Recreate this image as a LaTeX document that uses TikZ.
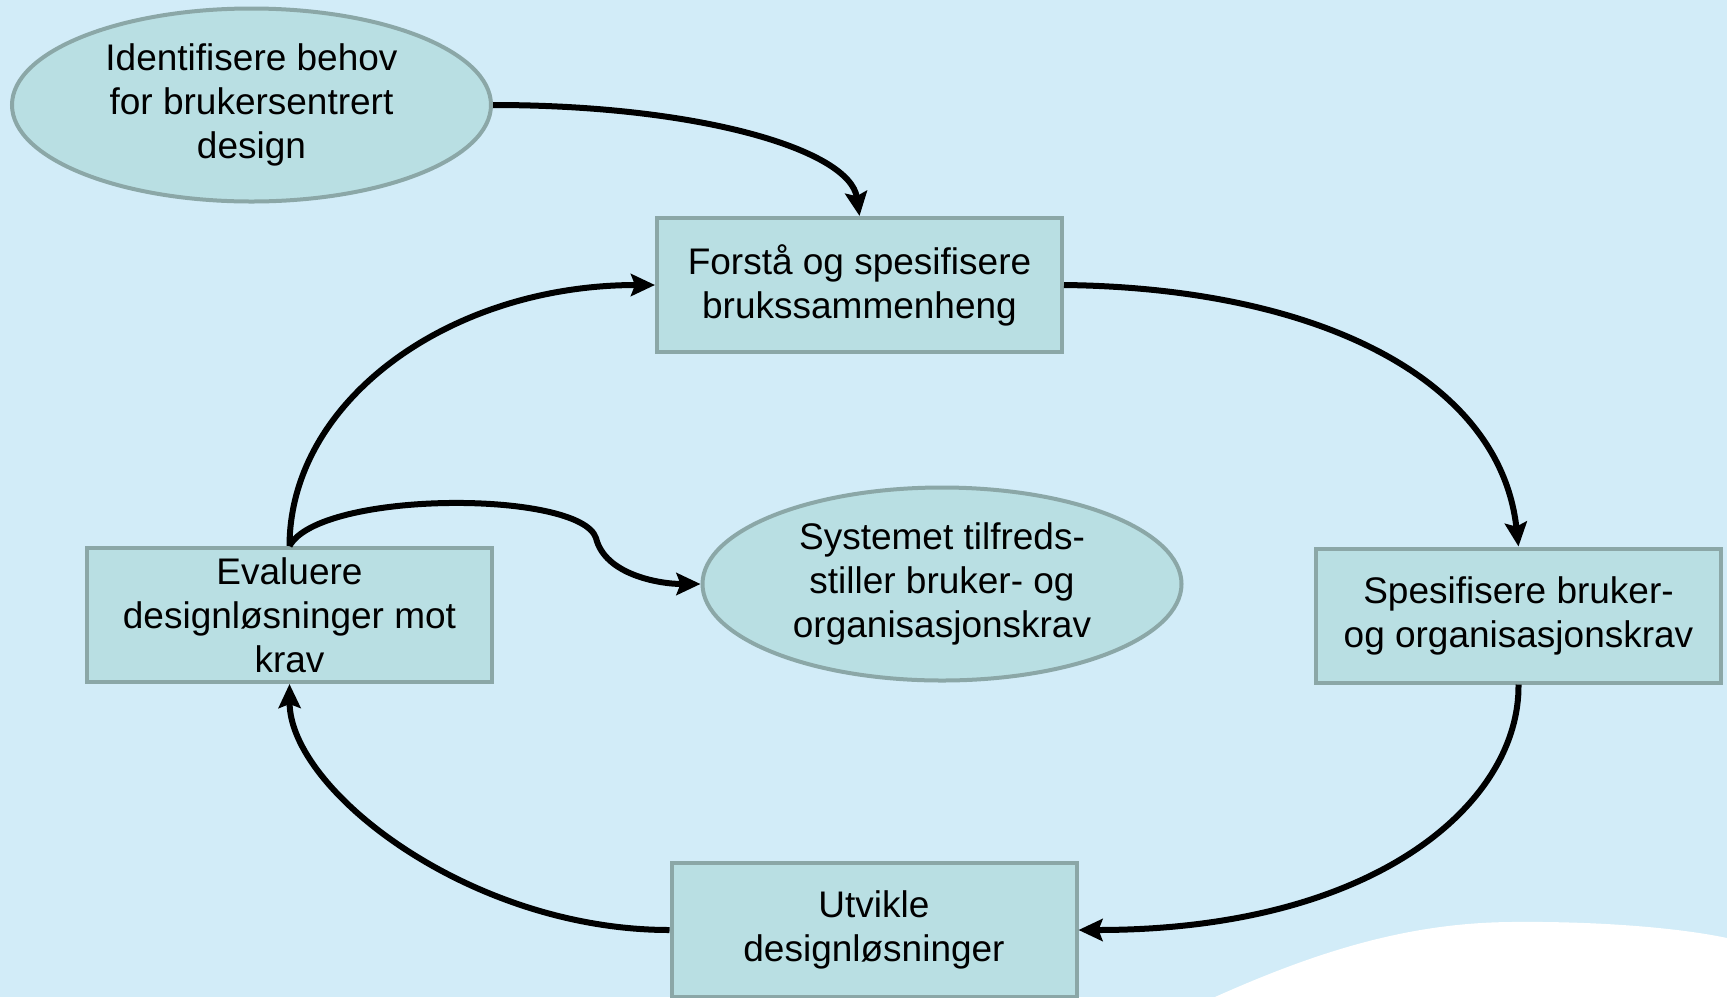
\documentclass[tikz,border=0pt]{standalone}
\usepackage{fontspec}
\setmainfont{Liberation Sans}
\usetikzlibrary{shapes.geometric,arrows.meta}
\definecolor{bgblue}{HTML}{D2ECF8}
\definecolor{nodefill}{HTML}{B9DFE3}
\definecolor{nodeedge}{HTML}{8BA7A7}
\begin{document}
\begin{tikzpicture}[x=1pt,y=-1pt,
		box/.style={draw=nodeedge,fill=nodefill,line width=4pt,minimum width=405pt,minimum height=134pt,inner sep=0pt,align=center,font=\fontsize{37}{44}\selectfont},
		oval/.style={box,ellipse,minimum width=479pt,minimum height=193pt},
		arr/.style={line width=6pt,-{Stealth[length=24pt,width=22pt,inset=4pt]}}]
	\useasboundingbox (0,0) rectangle (1727,997);
	\fill[bgblue] (0,0) rectangle (1727,997);
	\fill[white] (1215,997) .. controls (1320,950) and (1410,923) .. (1510,922) .. controls (1600,921) and (1680,928) .. (1727,938) -- (1727,997) -- cycle;
	% nodes
	\node[oval] (behov) at (251.5,105) {Identifisere behov\\for brukersentrert\\design};
	\node[box] (forst) at (859.5,285) {Forstå og spesifisere\\brukssammenheng};
	\node[box] (spes) at (1518.5,615.5) {Spesifisere bruker-\\og organisasjonskrav};
	\node[box] (utv) at (874,930) {Utvikle\\designløsninger};
	\node[box] (eval) at (289.5,615) {Evaluere\\designløsninger mot\\krav};
	\node[oval] (syst) at (942,584) {Systemet tilfreds-\\stiller bruker- og\\organisasjonskrav};
	% connectors
	\draw[arr] (behov.east) .. controls (700,105) and (850,150) .. (forst.north);
	\draw[arr] (forst.east) .. controls (1320,288) and (1500,380) .. (spes.north);
	\draw[arr] (spes.south) .. controls (1520,800) and (1380,930) .. (utv.east);
	\draw[arr] (utv.west) .. controls (470,930) and (290,790) .. (eval.south);
	\draw[arr] (eval.north) .. controls (290,400) and (450,285) .. (forst.west);
	\draw[arr] (eval.north) .. controls (320,490) and (580,490) .. (596,538) .. controls (605,575) and (660,584) .. (syst.west);
\end{tikzpicture}
\end{document}
